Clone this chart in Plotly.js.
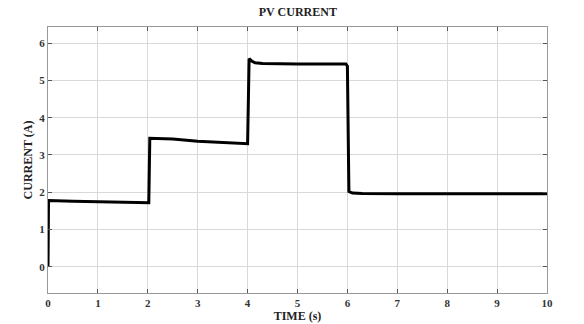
<!DOCTYPE html>
<html>
<head>
<meta charset="utf-8">
<script src="https://cdn.plot.ly/plotly-3.0.1.min.js"></script>
<style>html,body{margin:0;padding:0;background:#fff;}#chart{width:584px;height:324px;}</style>
</head>
<body>
<div id="chart"></div>
<script>
const time = [0, 0.01, 0.5, 1.0, 1.5, 2.02, 2.04, 2.5, 3.0, 3.5, 4.0, 4.03, 4.08, 4.15, 4.3, 5.0, 5.5, 5.97, 6.0, 6.03, 6.1, 6.3, 7, 8, 9, 10];
const current = [0, 1.78, 1.76, 1.75, 1.74, 1.72, 3.45, 3.43, 3.37, 3.33, 3.30, 5.58, 5.52, 5.47, 5.45, 5.44, 5.45, 5.44, 5.38, 2.02, 1.98, 1.97, 1.96, 1.96, 1.96, 1.96];
const xTicks = [0,1,2,3,4,5,6,7,8,9,10];
const yTicks = [0,1,2,3,4,5,6];

const fam = 'Liberation Serif, Times New Roman, serif';
const axisCommon = {
  showgrid: true, gridcolor: '#d9d9d9', gridwidth: 1,
  showline: true, linecolor: '#999', linewidth: 1, mirror: 'ticks',
  ticks: 'inside', ticklen: 4, tickcolor: '#555', zeroline: false,
  tickfont: {family: fam, size: 11, color: '#333'}
};
const layout = {
  width: 584, height: 324,
  margin: {l: 48, r: 37, t: 27, b: 31},
  paper_bgcolor: '#fff', plot_bgcolor: '#fff',
  showlegend: false,
  title: {text: '<b>PV CURRENT</b>', font: {family: fam, size: 12, color: '#222'}, x: 0.51, xanchor: 'center', y: 0.965, yanchor: 'middle'},
  xaxis: Object.assign({}, axisCommon, {range: [0, 10], tickvals: xTicks, ticktext: xTicks.map(v => '<b>' + v + '</b>'),
    title: {text: '<b>TIME (s)</b>', font: {family: fam, size: 12, color: '#222'}, standoff: 2}}),
  yaxis: Object.assign({}, axisCommon, {range: [-0.7, 6.43], tickvals: yTicks, ticktext: yTicks.map(v => '<b>' + v + '</b>'),
    title: {text: '<b>CURRENT (A)</b>', font: {family: fam, size: 12, color: '#222'}, standoff: 4}})
};
Plotly.newPlot('chart', [{
  x: time, y: current, type: 'scatter', mode: 'lines',
  line: {color: '#000', width: 3, shape: 'linear'}
}], layout, {staticPlot: true, displayModeBar: false});
</script>
</body>
</html>
